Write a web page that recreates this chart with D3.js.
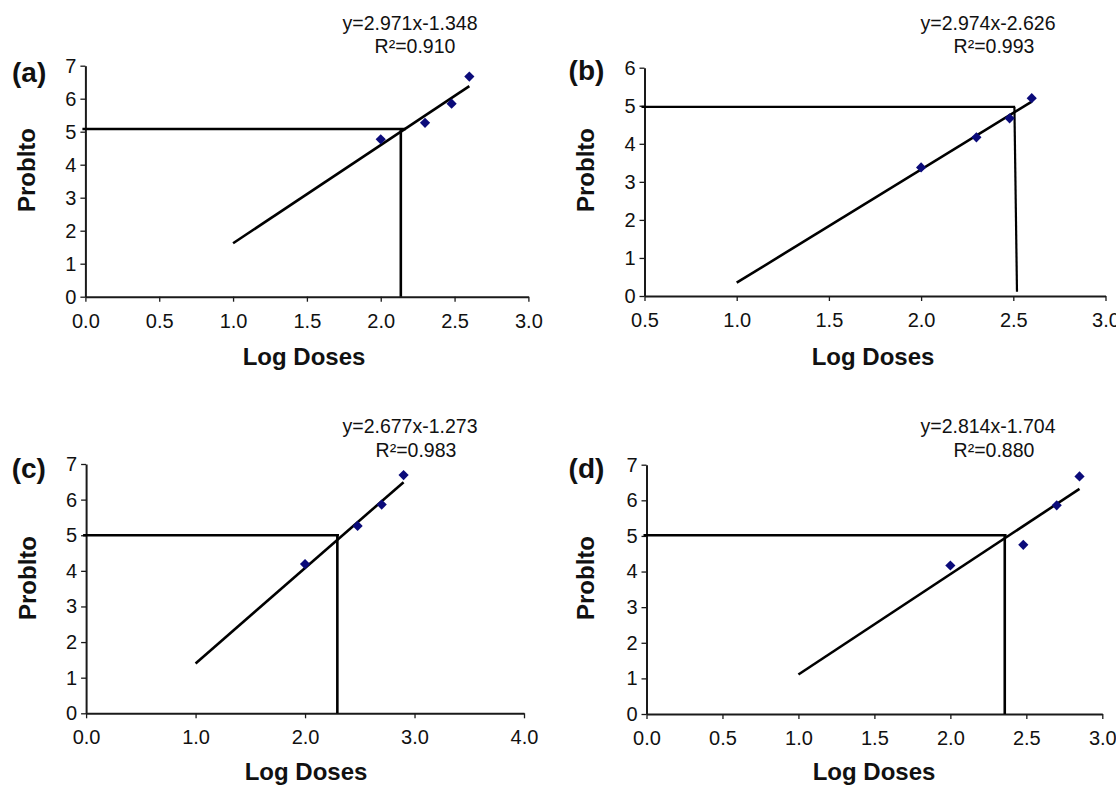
<!DOCTYPE html>
<html>
<head>
<meta charset="utf-8">
<script src="https://cdn.jsdelivr.net/npm/d3@7"></script>
<style>
  html, body { margin: 0; padding: 0; background: #fff; }
  svg { display: block; }
  text { font-family: "Liberation Sans", Arial, sans-serif; fill: #111; }
</style>
</head>
<body>
<svg id="chart" width="1116" height="785"></svg>
<script>
// ---------------- data ----------------
const panelLabels = ["(a)", "(b)", "(c)", "(d)"];
const xTitle = "Log Doses";
const yTitle = "Problto";

const doseA = [2.00, 2.30, 2.48, 2.60];
const probitA = [4.77, 5.27, 5.85, 6.67];
const doseB = [2.00, 2.30, 2.48, 2.60];
const probitB = [3.38, 4.17, 4.67, 5.20];
const doseC = [2.00, 2.48, 2.70, 2.90];
const probitC = [4.19, 5.26, 5.86, 6.69];
const doseD = [2.00, 2.48, 2.70, 2.85];
const probitD = [4.17, 4.75, 5.86, 6.67];

const equations = ["y=2.971x-1.348", "y=2.974x-2.626", "y=2.677x-1.273", "y=2.814x-1.704"];
const r2Labels = ["R\u00B2=0.910", "R\u00B2=0.993", "R\u00B2=0.983", "R\u00B2=0.880"];

// fitted line end points (x, y)
const fitX = [[1.0, 2.60], [1.0, 2.60], [1.0, 2.90], [1.0, 2.85]];
const fitY = [[1.62, 6.38], [0.35, 5.11], [1.40, 6.49], [1.11, 6.32]];

// LD50 guide lines: horizontal at guideY up to guideHX, vertical from (guideTopX, guideY) to (guideBotX, guideBotY)
const guideY = [5.08, 4.97, 5.00, 5.02];
const guideHX = [2.17, 2.51, 2.31, 2.37];
const guideTopX = [2.136, 2.506, 2.295, 2.358];
const guideBotX = [2.136, 2.52, 2.295, 2.358];
const guideBotY = [0, 0.11, 0, 0];

const xTicksA = [0.0, 0.5, 1.0, 1.5, 2.0, 2.5, 3.0];
const xTicksB = [0.5, 1.0, 1.5, 2.0, 2.5, 3.0];
const xTicksC = [0.0, 1.0, 2.0, 3.0, 4.0];
const xTicksD = [0.0, 0.5, 1.0, 1.5, 2.0, 2.5, 3.0];
const yTicksA = [0, 1, 2, 3, 4, 5, 6, 7];
const yTicksB = [0, 1, 2, 3, 4, 5, 6];
const yTicksC = [0, 1, 2, 3, 4, 5, 6, 7];
const yTicksD = [0, 1, 2, 3, 4, 5, 6, 7];

// ---------------- layout ----------------
const panels = [
  { dose: doseA, probit: probitA, xTicks: xTicksA, yTicks: yTicksA, gw: 2.6,
    box: { left: 85.4, right: 528.4, top: 65.7, bottom: 296.7 },
    lab: [12, 82], eq: [410, 30], r2: [415, 53], yt: [35, 170], xt: [304, 365] },
  { dose: doseB, probit: probitB, xTicks: xTicksB, yTicks: yTicksB, gw: 2.2,
    box: { left: 644.5, right: 1105.5, top: 67.7, bottom: 296 },
    lab: [568.6, 80], eq: [988, 30], r2: [994, 53], yt: [594, 170], xt: [873, 365] },
  { dose: doseC, probit: probitC, xTicks: xTicksC, yTicks: yTicksC, gw: 2.6,
    box: { left: 86.1, right: 524, top: 464, bottom: 713.3 },
    lab: [11.7, 478], eq: [410, 433], r2: [416, 457], yt: [36, 578], xt: [306, 780] },
  { dose: doseD, probit: probitD, xTicks: xTicksD, yTicks: yTicksD, gw: 2.6,
    box: { left: 646.5, right: 1102.3, top: 464.7, bottom: 714 },
    lab: [568.6, 478], eq: [988, 433], r2: [994, 457], yt: [594, 578], xt: [874, 780] }
];

const svg = d3.select("#chart");

panels.forEach((p, i) => {
  const b = p.box;
  const x = d3.scaleLinear()
    .domain([d3.min(p.xTicks), d3.max(p.xTicks)])
    .range([b.left, b.right]);
  const y = d3.scaleLinear()
    .domain([d3.min(p.yTicks), d3.max(p.yTicks)])
    .range([b.bottom, b.top]);

  const g = svg.append("g");

  // axes
  const xAxis = d3.axisBottom(x).tickValues(p.xTicks).tickFormat(d3.format(".1f"))
    .tickSize(5).tickSizeOuter(0).tickPadding(12);
  const yAxis = d3.axisLeft(y).tickValues(p.yTicks).tickFormat(d3.format("d"))
    .tickSize(5).tickSizeOuter(0).tickPadding(4);

  const gx = g.append("g").attr("transform", `translate(0,${b.bottom})`).call(xAxis);
  const gy = g.append("g").attr("transform", `translate(${b.left},0)`).call(yAxis);
  [gx, gy].forEach(ax => {
    ax.select(".domain").attr("stroke", "#1a1a1a").attr("stroke-width", 2);
    ax.selectAll(".tick line").attr("stroke", "#1a1a1a").attr("stroke-width", 1.3);
    ax.selectAll(".tick text")
      .style("font-family", '"Liberation Sans", Arial, sans-serif')
      .style("font-size", "20px").attr("fill", "#111");
  });

  // guide lines (LD50)
  g.append("line")
    .attr("x1", x(d3.min(p.xTicks)) - 3).attr("y1", y(guideY[i]))
    .attr("x2", x(guideHX[i])).attr("y2", y(guideY[i]))
    .attr("stroke", "#000").attr("stroke-width", p.gw);
  g.append("line")
    .attr("x1", x(guideTopX[i])).attr("y1", y(guideY[i]))
    .attr("x2", x(guideBotX[i])).attr("y2", y(guideBotY[i]))
    .attr("stroke", "#000").attr("stroke-width", p.gw);

  // fitted line
  g.append("line")
    .attr("x1", x(fitX[i][0])).attr("y1", y(fitY[i][0]))
    .attr("x2", x(fitX[i][1])).attr("y2", y(fitY[i][1]))
    .attr("stroke", "#000").attr("stroke-width", 2.6);

  // points (diamonds)
  const sym = d3.symbol().type(d3.symbolSquare).size(52);
  g.selectAll("path.pt").data(p.dose.map((d, k) => [d, p.probit[k]]))
    .enter().append("path").attr("class", "pt")
    .attr("d", sym)
    .attr("transform", d => `translate(${x(d[0])},${y(d[1])}) rotate(45)`)
    .attr("fill", "#0b0b7a");

  // panel label
  g.append("text").attr("x", p.lab[0]).attr("y", p.lab[1])
    .style("font-size", "28px").style("font-weight", "bold").attr("fill", "#000")
    .text(panelLabels[i]);

  // equation
  g.append("text").attr("x", p.eq[0]).attr("y", p.eq[1]).attr("text-anchor", "middle")
    .style("font-size", "19.5px").text(equations[i]);
  g.append("text").attr("x", p.r2[0]).attr("y", p.r2[1]).attr("text-anchor", "middle")
    .style("font-size", "19.5px").text(r2Labels[i]);

  // axis titles
  g.append("text").attr("transform", `translate(${p.yt[0]},${p.yt[1]}) rotate(-90)`)
    .attr("text-anchor", "middle").style("font-size", "24px").style("font-weight", "bold")
    .attr("fill", "#000").text(yTitle);
  g.append("text").attr("x", p.xt[0]).attr("y", p.xt[1]).attr("text-anchor", "middle")
    .style("font-size", "24px").style("font-weight", "bold").attr("fill", "#000")
    .text(xTitle);
});
</script>
</body>
</html>
